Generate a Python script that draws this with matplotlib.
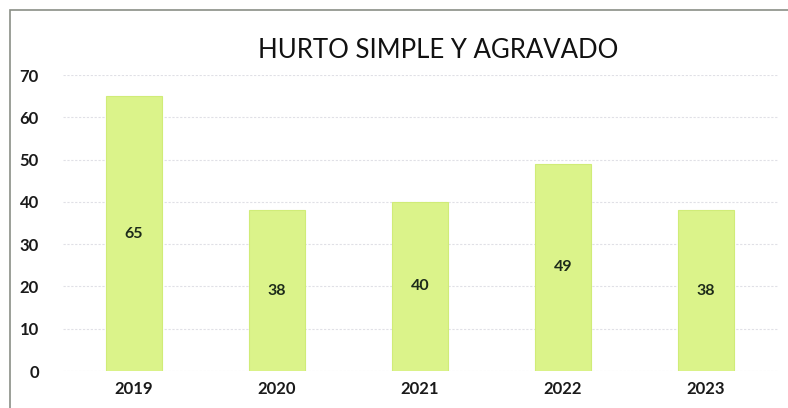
import matplotlib
matplotlib.use("Agg")
import matplotlib.pyplot as plt
from matplotlib.patches import Rectangle

years = ["2019", "2020", "2021", "2022", "2023"]
values = [65, 38, 40, 49, 38]
title = "HURTO SIMPLE Y AGRAVADO"
yticks = [0, 10, 20, 30, 40, 50, 60, 70]

plt.rcParams['font.family'] = ['Lato', 'DejaVu Sans']

W, H = 788, 408
fig = plt.figure(figsize=(W / 100, H / 100), dpi=100)
fig.patch.set_facecolor("white")

# outer frame
fig.patches.append(Rectangle((10 / W, -0.05), 1.2, (H - 10) / H + 0.05, transform=fig.transFigure,
                             fill=False, edgecolor="#8a8f86", linewidth=1.2))

ax = fig.add_axes([62.5 / W, 37 / H, 715 / W, 296 / H])
x = range(len(years))
bars = ax.bar(x, values, width=0.39, color="#dbf38a", edgecolor="#d0ec78", linewidth=0.8, zorder=2)
for xi, v in zip(x, values):
    ax.text(xi, v / 2, str(v), ha="center", va="center", fontsize=11.5, fontweight="bold",
            color="#1d2b1a", zorder=3)

ax.set_xlim(-0.5, len(years) - 0.5)
ax.set_ylim(0, 70)
ax.set_yticks(yticks)
ax.set_yticklabels([str(t) for t in yticks], fontsize=12, fontweight="bold", color="#1a1a1a")
ax.set_xticks(list(x))
ax.set_xticklabels(years, fontsize=12, fontweight="bold", color="#1a1a1a")
ax.tick_params(length=0, axis="y", pad=17)
ax.tick_params(length=0, axis="x", pad=7)
ax.grid(axis="y", color="#e0e0e6", linestyle=(0, (2, 1.5)), linewidth=0.8, zorder=0)
for s in ax.spines.values():
    s.set_visible(False)

fig.text(438 / W, 1 - 50 / H, title, ha="center", va="center", fontsize=18.5,
         color="#111111")

fig.savefig("out.png", dpi=100)
